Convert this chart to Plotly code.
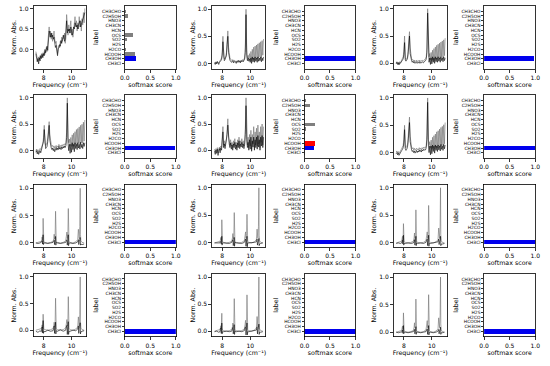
import plotly.graph_objects as go

# ---------------- data ----------------
LABELS = ["CH3Cl", "CH3OH", "HCOOH", "H2CO", "H2S", "SO2", "OCS", "HCN",
          "CH3CN", "HNO3", "C2H5OH", "CH3CHO"]

FREQ_A = [7.45, 7.50, 7.55, 7.60, 7.65, 7.70, 7.75, 7.80, 7.85, 7.90,
          7.95, 8.00, 8.05, 8.10, 8.15, 8.20, 8.25, 8.30, 8.35, 8.40,
          8.45, 8.50, 8.55, 8.60, 8.65, 8.70, 8.75, 8.80, 8.85, 8.90,
          8.95, 9.00, 9.05, 9.10, 9.15, 9.20, 9.25, 9.30, 9.35, 9.40,
          9.45, 9.50, 9.55, 9.60, 9.65, 9.70, 9.75, 9.80, 9.85, 9.90,
          9.95, 10.00, 10.05, 10.10, 10.15, 10.20, 10.25, 10.30, 10.35, 10.40,
          10.45, 10.50, 10.55, 10.60, 10.65, 10.70, 10.75, 10.80, 10.85, 10.90,
          10.95]

FREQ_B = [7.45, 7.60, 7.75,
          7.84, 7.87, 7.90, 7.93, 7.95, 7.97, 7.99, 8.02,
          8.10, 8.30, 8.50,
          8.68, 8.73, 8.76, 8.79, 8.83, 8.86, 8.88, 8.91,
          9.00, 9.20, 9.40,
          9.58, 9.63, 9.67, 9.70, 9.74, 9.77, 9.79, 9.82,
          9.90, 10.10, 10.30,
          10.44, 10.49, 10.52, 10.55, 10.59, 10.62, 10.64, 10.67,
          10.75, 10.90]

# panel 1 (noisy CH3OH)
GRAY_1 = [-0.05, -0.12, -0.20, -0.28, -0.18, -0.25, -0.15, -0.22, -0.10, -0.18,
          -0.08, -0.15, -0.05, -0.12, -0.02, 0.05, -0.05, 0.10, 0.35, 0.55,
          0.30, 0.45, 0.25, 0.40, 0.20, 0.35, 0.45, 0.25, 0.15, 0.20,
          0.05, -0.10, 0.00, 0.10, 0.05, 0.20, 0.15, 0.30, 0.20, 0.35,
          0.25, 0.40, 0.15, 0.30, 0.85, 0.50, 0.35, 0.60, 0.40, 0.55,
          0.70, 0.35, 0.50, 0.30, 0.45, 0.60, 0.80, 0.55, 0.70, 0.45,
          0.65, 0.50, 0.80, 0.55, 0.70, 0.45, 0.75, 0.60, 0.90, 0.65,
          1.00]
BLACK_1 = [-0.10, -0.20, -0.30, -0.22, -0.35, -0.20, -0.28, -0.15, -0.22, -0.12,
           -0.20, -0.10, -0.15, 0.00, -0.08, 0.00, 0.08, -0.02, 0.25, 0.45,
           0.40, 0.30, 0.40, 0.30, 0.35, 0.25, 0.30, 0.15, 0.05, 0.10,
           -0.05, -0.15, 0.02, 0.05, 0.12, 0.08, 0.22, 0.15, 0.25, 0.30,
           0.35, 0.20, 0.25, 0.45, 0.70, 0.40, 0.50, 0.45, 0.50, 0.40,
           0.55, 0.45, 0.35, 0.40, 0.55, 0.50, 0.65, 0.60, 0.55, 0.60,
           0.50, 0.60, 0.65, 0.70, 0.55, 0.60, 0.65, 0.70, 0.75, 0.80,
           0.90]

# panel 2
GRAY_2 = [0.02, 0.00, 0.03, 0.01, 0.04, 0.02, 0.00, 0.03, 0.05, 0.08,
          0.10, 0.20, 0.50, 0.12, 0.08, 0.10, 0.12, 0.20, 0.45, 0.60,
          0.30, 0.15, 0.10, 0.08, 0.06, 0.05, 0.07, 0.04, 0.06, 0.05,
          0.04, 0.03, 0.05, 0.04, 0.06, 0.04, 0.05, 0.03, 0.06, 0.05,
          0.07, 0.05, 0.08, 0.10, 0.30, 1.00, 0.25, 0.10, 0.15, 0.08,
          0.18, 0.06, 0.22, 0.05, 0.26, 0.08, 0.30, 0.06, 0.32, 0.10,
          0.34, 0.08, 0.36, 0.10, 0.38, 0.12, 0.40, 0.10, 0.42, 0.15,
          0.45]
BLACK_2 = [0.01, -0.02, 0.02, -0.01, 0.03, 0.00, -0.02, 0.02, 0.03, 0.05,
           0.07, 0.15, 0.40, 0.08, 0.05, 0.07, 0.10, 0.15, 0.35, 0.50,
           0.20, 0.10, 0.06, 0.04, 0.02, 0.03, 0.05, 0.01, 0.04, 0.02,
           0.03, 0.00, 0.04, 0.02, 0.05, 0.02, 0.04, 0.01, 0.05, 0.03,
           0.05, 0.03, 0.06, 0.08, 0.20, 0.90, 0.15, 0.05, 0.10, 0.04,
           0.08, 0.02, 0.10, 0.00, 0.12, 0.03, 0.10, 0.02, 0.12, 0.04,
           0.10, 0.02, 0.12, 0.04, 0.10, 0.05, 0.12, 0.03, 0.10, 0.05,
           0.12]

# panel 3
GRAY_3 = [0.01, 0.03, 0.00, 0.02, -0.01, 0.03, 0.01, 0.04, 0.06, 0.09,
          0.12, 0.22, 0.50, 0.10, 0.07, 0.09, 0.11, 0.22, 0.42, 0.58,
          0.28, 0.14, 0.09, 0.06, 0.07, 0.04, 0.06, 0.03, 0.05, 0.06,
          0.03, 0.05, 0.04, 0.06, 0.03, 0.05, 0.04, 0.06, 0.05, 0.04,
          0.06, 0.07, 0.09, 0.12, 0.28, 1.00, 0.22, 0.12, 0.18, 0.06,
          0.20, 0.05, 0.24, 0.06, 0.27, 0.05, 0.30, 0.08, 0.33, 0.07,
          0.35, 0.10, 0.37, 0.08, 0.39, 0.12, 0.41, 0.10, 0.43, 0.14,
          0.46]
BLACK_3 = [-0.01, 0.02, -0.02, 0.01, -0.03, 0.01, 0.00, 0.02, 0.04, 0.06,
           0.08, 0.16, 0.38, 0.06, 0.04, 0.06, 0.08, 0.16, 0.33, 0.50,
           0.18, 0.08, 0.05, 0.02, 0.04, 0.01, 0.03, 0.00, 0.02, 0.03,
           0.00, 0.02, 0.01, 0.03, 0.00, 0.02, 0.01, 0.03, 0.02, 0.01,
           0.03, 0.04, 0.05, 0.08, 0.20, 0.92, 0.12, 0.02, 0.10, -0.02,
           0.10, -0.01, 0.12, 0.02, 0.10, 0.00, 0.12, 0.03, 0.10, 0.02,
           0.12, 0.04, 0.10, 0.02, 0.12, 0.05, 0.10, 0.03, 0.12, 0.05,
           0.10]

# panel 4
GRAY_4 = [0.00, 0.03, -0.02, 0.02, -0.03, 0.01, 0.04, 0.02, 0.06, 0.10,
          0.14, 0.25, 0.48, 0.15, 0.10, 0.12, 0.15, 0.24, 0.40, 0.55,
          0.30, 0.18, 0.12, 0.08, 0.10, 0.06, 0.09, 0.05, 0.08, 0.10,
          0.06, 0.09, 0.07, 0.12, 0.08, 0.10, 0.07, 0.11, 0.09, 0.12,
          0.10, 0.13, 0.11, 0.15, 0.35, 1.00, 0.25, 0.15, 0.22, 0.10,
          0.25, 0.08, 0.30, 0.10, 0.33, 0.08, 0.36, 0.12, 0.40, 0.10,
          0.42, 0.14, 0.45, 0.12, 0.48, 0.15, 0.50, 0.14, 0.54, 0.18,
          0.58]
BLACK_4 = [-0.03, 0.00, -0.06, -0.02, -0.07, -0.03, 0.00, -0.04, 0.02, 0.05,
           0.08, 0.18, 0.40, 0.08, 0.04, 0.06, 0.08, 0.17, 0.32, 0.48,
           0.20, 0.10, 0.05, 0.02, 0.05, 0.00, 0.04, -0.02, 0.03, 0.06,
           0.01, 0.05, 0.02, 0.08, 0.03, 0.06, 0.02, 0.07, 0.04, 0.08,
           0.05, 0.09, 0.06, 0.10, 0.25, 0.90, 0.15, 0.00, 0.12, -0.05,
           0.12, -0.03, 0.15, 0.02, 0.12, -0.02, 0.15, 0.04, 0.12, 0.02,
           0.15, 0.05, 0.12, 0.03, 0.16, 0.06, 0.12, 0.04, 0.15, 0.08,
           0.15]

# panel 5 (noisy, wrong prediction)
GRAY_5 = [0.02, -0.04, 0.03, -0.02, 0.05, -0.05, 0.02, 0.06, 0.00, 0.08,
          0.05, 0.20, 0.45, 0.10, 0.18, 0.08, 0.15, 0.22, 0.40, 0.60,
          0.25, 0.18, 0.10, 0.20, 0.08, 0.15, 0.05, 0.18, 0.10, 0.22,
          0.08, 0.15, 0.05, 0.20, 0.10, 0.25, 0.08, 0.18, 0.12, 0.22,
          0.10, 0.18, 0.08, 0.15, 0.40, 1.00, 0.30, 0.10, 0.25, 0.05,
          0.30, 0.08, 0.38, 0.02, 0.30, 0.12, 0.45, 0.05, 0.35, 0.10,
          0.42, 0.08, 0.48, 0.12, 0.35, 0.05, 0.45, 0.15, 0.50, 0.10,
          0.45]
BLACK_5 = [-0.02, -0.08, 0.00, -0.06, 0.02, -0.10, -0.02, 0.03, -0.05, 0.04,
           0.00, 0.15, 0.35, 0.05, 0.12, 0.03, 0.10, 0.16, 0.30, 0.48,
           0.18, 0.12, 0.05, 0.14, 0.02, 0.10, 0.00, 0.12, 0.05, 0.15,
           0.02, 0.10, 0.00, 0.14, 0.05, 0.18, 0.03, 0.12, 0.06, 0.15,
           0.05, 0.12, 0.03, 0.10, 0.30, 0.85, 0.20, 0.05, 0.15, 0.00,
           0.20, 0.02, 0.25, -0.02, 0.18, 0.06, 0.25, 0.00, 0.20, 0.05,
           0.25, 0.02, 0.28, 0.06, 0.20, 0.00, 0.25, 0.08, 0.28, 0.05,
           0.25]

# panel 6
GRAY_6 = [0.01, 0.03, -0.01, 0.02, -0.02, 0.02, 0.03, 0.05, 0.07, 0.10,
          0.13, 0.24, 0.50, 0.12, 0.09, 0.11, 0.14, 0.25, 0.45, 0.65,
          0.30, 0.16, 0.10, 0.07, 0.09, 0.05, 0.08, 0.04, 0.07, 0.08,
          0.05, 0.07, 0.05, 0.09, 0.06, 0.08, 0.05, 0.09, 0.07, 0.10,
          0.08, 0.10, 0.09, 0.13, 0.32, 1.00, 0.24, 0.13, 0.20, 0.08,
          0.23, 0.06, 0.28, 0.08, 0.31, 0.06, 0.34, 0.10, 0.38, 0.08,
          0.40, 0.12, 0.43, 0.10, 0.46, 0.13, 0.48, 0.12, 0.51, 0.16,
          0.55]
BLACK_6 = [-0.02, 0.00, -0.04, -0.01, -0.05, -0.02, 0.00, 0.02, 0.04, 0.06,
           0.09, 0.18, 0.42, 0.07, 0.04, 0.06, 0.09, 0.18, 0.36, 0.55,
           0.20, 0.09, 0.05, 0.02, 0.04, 0.00, 0.03, -0.01, 0.02, 0.04,
           0.00, 0.03, 0.01, 0.05, 0.02, 0.04, 0.01, 0.05, 0.03, 0.06,
           0.04, 0.06, 0.05, 0.09, 0.24, 0.92, 0.14, 0.00, 0.12, -0.04,
           0.12, -0.02, 0.14, 0.02, 0.12, -0.01, 0.14, 0.04, 0.12, 0.02,
           0.14, 0.05, 0.12, 0.03, 0.15, 0.06, 0.12, 0.04, 0.15, 0.07,
           0.14]

# panels 7-12 (CH3Cl), on FREQ_B
GRAY_7 = [0.00, 0.01, 0.02,
          0.03, 0.06, 0.11, 0.05, 0.12, 0.45, 0.08, 0.02,
          0.01, 0.00, 0.01,
          0.03, 0.08, 0.16, 0.07, 0.15, 0.58, 0.10, 0.02,
          0.01, 0.00, 0.01,
          0.04, 0.12, 0.20, 0.08, 0.18, 0.63, 0.12, 0.03,
          0.01, 0.00, 0.02,
          0.06, 0.25, 0.10, 0.08, 0.30, 1.00, 0.15, 0.04,
          0.01, 0.00]
BLACK_7 = [0.00, -0.01, 0.00,
           0.01, 0.02, 0.04, -0.02, 0.06, 0.15, -0.03, 0.00,
           0.00, -0.01, 0.00,
           0.01, 0.03, 0.05, -0.03, 0.05, 0.12, -0.04, 0.01,
           0.00, -0.01, 0.00,
           0.01, 0.04, 0.06, -0.04, 0.05, 0.15, -0.05, 0.00,
           0.00, -0.01, 0.00,
           0.02, 0.06, -0.03, 0.02, 0.06, 0.10, -0.04, -0.02,
           -0.03, -0.02]
GRAY_8 = [0.00, 0.01, 0.02,
          0.03, 0.05, 0.10, 0.04, 0.10, 0.42, 0.07, 0.02,
          0.01, 0.00, 0.01,
          0.03, 0.09, 0.17, 0.07, 0.14, 0.55, 0.09, 0.02,
          0.01, 0.00, 0.01,
          0.04, 0.13, 0.20, 0.08, 0.17, 0.52, 0.11, 0.03,
          0.01, 0.00, 0.02,
          0.06, 0.25, 0.10, 0.08, 0.30, 1.00, 0.14, 0.04,
          0.01, 0.00]
BLACK_8 = [0.00, 0.00, -0.01,
           0.00, 0.02, 0.03, -0.02, 0.05, 0.12, -0.04, 0.00,
           0.00, 0.00, -0.01,
           0.01, 0.03, 0.06, -0.05, 0.06, 0.10, -0.06, 0.01,
           0.00, 0.00, -0.01,
           0.01, 0.05, 0.07, -0.06, 0.06, 0.12, -0.07, 0.00,
           0.00, 0.00, 0.01,
           0.02, 0.07, -0.04, 0.03, 0.05, 0.08, -0.05, -0.02,
           -0.01, 0.00]
GRAY_9 = [0.00, 0.01, 0.02,
          0.03, 0.07, 0.12, 0.05, 0.10, 0.35, 0.07, 0.02,
          0.01, 0.00, 0.01,
          0.03, 0.09, 0.18, 0.08, 0.15, 0.60, 0.10, 0.02,
          0.01, 0.00, 0.01,
          0.04, 0.13, 0.20, 0.08, 0.18, 0.68, 0.12, 0.03,
          0.01, 0.00, 0.02,
          0.06, 0.27, 0.11, 0.08, 0.30, 1.00, 0.15, 0.04,
          0.01, 0.00]
BLACK_9 = [-0.01, 0.00, -0.01,
           0.00, 0.02, 0.05, -0.02, 0.06, 0.14, -0.04, -0.01,
           -0.01, 0.00, -0.01,
           0.00, 0.03, 0.06, -0.04, 0.05, 0.12, -0.05, 0.00,
           -0.01, 0.00, -0.01,
           0.01, 0.05, 0.07, -0.05, 0.06, 0.14, -0.06, 0.00,
           -0.01, 0.00, 0.00,
           0.02, 0.07, -0.03, 0.02, 0.06, 0.12, -0.05, -0.02,
           -0.02, -0.01]
GRAY_10 = [0.00, 0.01, 0.02,
           0.03, 0.05, 0.10, 0.04, 0.09, 0.30, 0.06, 0.02,
           0.01, 0.00, 0.01,
           0.03, 0.08, 0.15, 0.07, 0.16, 0.60, 0.10, 0.02,
           0.01, 0.00, 0.01,
           0.04, 0.12, 0.20, 0.08, 0.18, 0.63, 0.12, 0.03,
           0.01, 0.00, 0.02,
           0.06, 0.25, 0.10, 0.08, 0.30, 1.00, 0.15, 0.04,
           0.01, 0.00]
BLACK_10 = [-0.02, -0.04, -0.01,
            -0.03, 0.03, 0.06, -0.05, 0.07, 0.18, -0.06, -0.02,
            -0.03, 0.00, -0.02,
            -0.01, 0.04, 0.08, -0.06, 0.07, 0.15, -0.07, -0.01,
            -0.02, 0.01, -0.02,
            0.00, 0.06, 0.09, -0.08, 0.07, 0.16, -0.08, -0.02,
            -0.02, 0.00, -0.01,
            0.02, 0.08, -0.06, 0.04, 0.08, 0.14, -0.07, -0.03,
            -0.02, -0.01]
GRAY_11 = [0.00, 0.01, 0.02,
           0.03, 0.06, 0.10, 0.05, 0.11, 0.33, 0.07, 0.02,
           0.01, 0.00, 0.01,
           0.03, 0.08, 0.15, 0.07, 0.16, 0.60, 0.10, 0.02,
           0.01, 0.00, 0.01,
           0.04, 0.12, 0.20, 0.08, 0.18, 0.67, 0.12, 0.03,
           0.01, 0.00, 0.02,
           0.06, 0.27, 0.10, 0.08, 0.30, 1.00, 0.15, 0.04,
           0.01, 0.00]
BLACK_11 = [-0.01, 0.00, -0.02,
            -0.01, 0.03, 0.06, -0.04, 0.06, 0.15, -0.05, -0.01,
            -0.01, 0.00, -0.01,
            0.00, 0.04, 0.07, -0.05, 0.06, 0.12, -0.06, 0.00,
            -0.01, 0.00, -0.01,
            0.01, 0.06, 0.08, -0.07, 0.07, 0.15, -0.07, -0.01,
            -0.01, 0.00, 0.00,
            0.02, 0.08, -0.05, 0.03, 0.07, 0.13, -0.06, -0.02,
            -0.02, -0.01]
GRAY_12 = [0.00, 0.01, 0.02,
           0.03, 0.07, 0.11, 0.05, 0.10, 0.35, 0.07, 0.02,
           0.01, 0.00, 0.01,
           0.03, 0.09, 0.17, 0.08, 0.15, 0.60, 0.10, 0.02,
           0.01, 0.00, 0.01,
           0.04, 0.13, 0.21, 0.08, 0.18, 0.68, 0.12, 0.03,
           0.01, 0.00, 0.02,
           0.06, 0.26, 0.10, 0.08, 0.30, 1.00, 0.15, 0.04,
           0.01, 0.00]
BLACK_12 = [0.00, -0.01, 0.00,
            0.00, 0.02, 0.04, -0.02, 0.05, 0.12, -0.03, 0.00,
            0.00, -0.01, 0.00,
            0.01, 0.03, 0.05, -0.03, 0.05, 0.10, -0.04, 0.00,
            0.00, -0.01, 0.00,
            0.01, 0.04, 0.06, -0.04, 0.05, 0.12, -0.05, 0.00,
            0.00, -0.01, 0.00,
            0.02, 0.05, -0.03, 0.02, 0.05, 0.09, -0.04, -0.01,
            -0.01, 0.00]

# softmax scores, same order as LABELS
SCORES_1 = [0.01, 0.22, 0.20, 0.02, 0.01, 0.04, 0.17, 0.01, 0.005, 0.005, 0.07, 0.03]
SCORES_2 = [0.0, 1.00, 0.0, 0.0, 0.0, 0.0, 0.0, 0.0, 0.0, 0.0, 0.0, 0.0]
SCORES_3 = [0.0, 0.97, 0.005, 0.0, 0.0, 0.0, 0.005, 0.0, 0.0, 0.0, 0.0, 0.0]
SCORES_4 = [0.0, 0.99, 0.0, 0.0, 0.0, 0.0, 0.0, 0.0, 0.0, 0.0, 0.0, 0.0]
SCORES_5 = [0.02, 0.18, 0.21, 0.01, 0.01, 0.03, 0.20, 0.01, 0.01, 0.01, 0.10, 0.03]
SCORES_6 = [0.0, 1.00, 0.0, 0.0, 0.0, 0.0, 0.0, 0.0, 0.0, 0.0, 0.0, 0.0]
SCORES_7 = [1.00, 0.0, 0.0, 0.0, 0.0, 0.0, 0.0, 0.0, 0.0, 0.0, 0.0, 0.0]
SCORES_8 = [1.00, 0.0, 0.0, 0.0, 0.0, 0.0, 0.0, 0.0, 0.0, 0.0, 0.0, 0.0]
SCORES_9 = [1.00, 0.0, 0.0, 0.0, 0.0, 0.0, 0.0, 0.0, 0.0, 0.0, 0.0, 0.0]
SCORES_10 = [1.00, 0.0, 0.0, 0.0, 0.0, 0.0, 0.0, 0.0, 0.0, 0.0, 0.0, 0.0]
SCORES_11 = [1.00, 0.0, 0.0, 0.0, 0.0, 0.0, 0.0, 0.0, 0.0, 0.0, 0.0, 0.0]
SCORES_12 = [0.99, 0.0, 0.0, 0.0, 0.0, 0.0, 0.0, 0.0, 0.0, 0.0, 0.0, 0.0]

TRUE_LABELS = ["CH3OH"] * 6 + ["CH3Cl"] * 6
PRED_LABELS = ["CH3OH", "CH3OH", "CH3OH", "CH3OH", "HCOOH", "CH3OH"] + ["CH3Cl"] * 6

FREQ_TICKS = [8, 10]
ABS_TICKS = [0.0, 0.5, 1.0]
SCORE_TICKS = [0.0, 0.5, 1.0]

YLIMS = [(-0.47, 1.06), (-0.10, 1.06), (-0.10, 1.05), (-0.14, 1.05),
         (-0.15, 1.05), (-0.10, 1.05), (-0.08, 1.07), (-0.08, 1.06),
         (-0.08, 1.06), (-0.12, 1.06), (-0.10, 1.06), (-0.08, 1.06)]

GRAYS = [GRAY_1, GRAY_2, GRAY_3, GRAY_4, GRAY_5, GRAY_6,
         GRAY_7, GRAY_8, GRAY_9, GRAY_10, GRAY_11, GRAY_12]
BLACKS = [BLACK_1, BLACK_2, BLACK_3, BLACK_4, BLACK_5, BLACK_6,
          BLACK_7, BLACK_8, BLACK_9, BLACK_10, BLACK_11, BLACK_12]
SCORES = [SCORES_1, SCORES_2, SCORES_3, SCORES_4, SCORES_5, SCORES_6,
          SCORES_7, SCORES_8, SCORES_9, SCORES_10, SCORES_11, SCORES_12]

# ---------------- layout geometry ----------------
W, H = 550, 366
ROW_TOPS = [5, 94.5, 184, 273.5]
ROW_H = 63
SPEC_LEFT = [29, 211, 396]
SPEC_W = 54
BAR_LEFT = [122, 305, 488]
BAR_W = 52

FONT = "DejaVu Sans"
TICK_FONT = dict(family=FONT, size=6, color="black")
TITLE_FONT = dict(family=FONT, size=6.3, color="black")

fig = go.Figure()
layout = {}

def axis_common():
    return dict(showline=True, mirror=True, linecolor="black", linewidth=0.8,
                ticks="outside", ticklen=3, tickwidth=0.8, tickcolor="black",
                showgrid=False, zeroline=False, tickfont=TICK_FONT)

for k in range(12):
    r, c = divmod(k, 3)
    top = ROW_TOPS[r]
    ydom = [1 - (top + ROW_H) / H, 1 - top / H]
    n_s = 2 * k + 1
    n_b = 2 * k + 2
    freq = FREQ_A if k < 6 else FREQ_B

    xa_s = "x" if n_s == 1 else f"x{n_s}"
    ya_s = "y" if n_s == 1 else f"y{n_s}"
    fig.add_trace(go.Scatter(x=freq, y=GRAYS[k], mode="lines",
                             line=dict(color="rgba(110,110,110,0.85)", width=0.7),
                             xaxis=xa_s, yaxis=ya_s, showlegend=False))
    fig.add_trace(go.Scatter(x=freq, y=BLACKS[k], mode="lines",
                             line=dict(color="black", width=0.6),
                             xaxis=xa_s, yaxis=ya_s, showlegend=False))

    xs = axis_common()
    xs.update(domain=[SPEC_LEFT[c] / W, (SPEC_LEFT[c] + SPEC_W) / W],
              range=[7.28, 11.07], tickvals=FREQ_TICKS,
              ticktext=[str(v) for v in FREQ_TICKS],
              anchor=ya_s,
              title=dict(text="Frequency (cm⁻¹)", font=TITLE_FONT, standoff=1))
    ys = axis_common()
    ys.update(domain=ydom, range=list(YLIMS[k]), tickvals=ABS_TICKS,
              ticktext=[f"{v:.1f}" for v in ABS_TICKS], anchor=xa_s,
              title=dict(text="Norm. Abs.", font=TITLE_FONT, standoff=1))
    layout["xaxis" if n_s == 1 else f"xaxis{n_s}"] = xs
    layout["yaxis" if n_s == 1 else f"yaxis{n_s}"] = ys

    # bars
    xa_b = f"x{n_b}"
    ya_b = f"y{n_b}"
    colors, widths = [], []
    for lab in LABELS:
        if lab == TRUE_LABELS[k]:
            colors.append("#0000ee"); widths.append(1.0)
        elif lab == PRED_LABELS[k]:
            colors.append("#ff0000"); widths.append(1.0)
        else:
            colors.append("#7f7f7f"); widths.append(0.7)
    fig.add_trace(go.Bar(x=SCORES[k], y=list(range(len(LABELS))), orientation="h",
                         marker=dict(color=colors, line=dict(width=0)), width=widths,
                         xaxis=xa_b, yaxis=ya_b, showlegend=False))
    xb = axis_common()
    xb.update(domain=[BAR_LEFT[c] / W, (BAR_LEFT[c] + BAR_W) / W],
              range=[0, 1.0], tickvals=SCORE_TICKS,
              ticktext=[f"{v:.1f}" for v in SCORE_TICKS], anchor=ya_b,
              title=dict(text="softmax score", font=TITLE_FONT, standoff=1))
    yb = axis_common()
    yb.update(domain=ydom, range=[-1.1, 12.1], tickvals=list(range(len(LABELS))),
              ticktext=LABELS, anchor=xa_b, ticklen=2,
              tickfont=dict(family=FONT, size=4.4, color="black"),
              title=dict(text="label", font=TITLE_FONT, standoff=2))
    layout[f"xaxis{n_b}"] = xb
    layout[f"yaxis{n_b}"] = yb

fig.update_layout(width=W, height=H, margin=dict(l=0, r=0, t=0, b=0),
                  paper_bgcolor="white", plot_bgcolor="white",
                  bargap=0, **layout)

fig.write_html("out.html",
               config={"displayModeBar": False, "staticPlot": True},
               post_script=("document.body.style.margin='0px';"
                            "document.body.style.overflow='hidden';"
                            "var gd=document.querySelector('.plotly-graph-div');"
                            "if(gd){gd.style.opacity='0.999';}"))
